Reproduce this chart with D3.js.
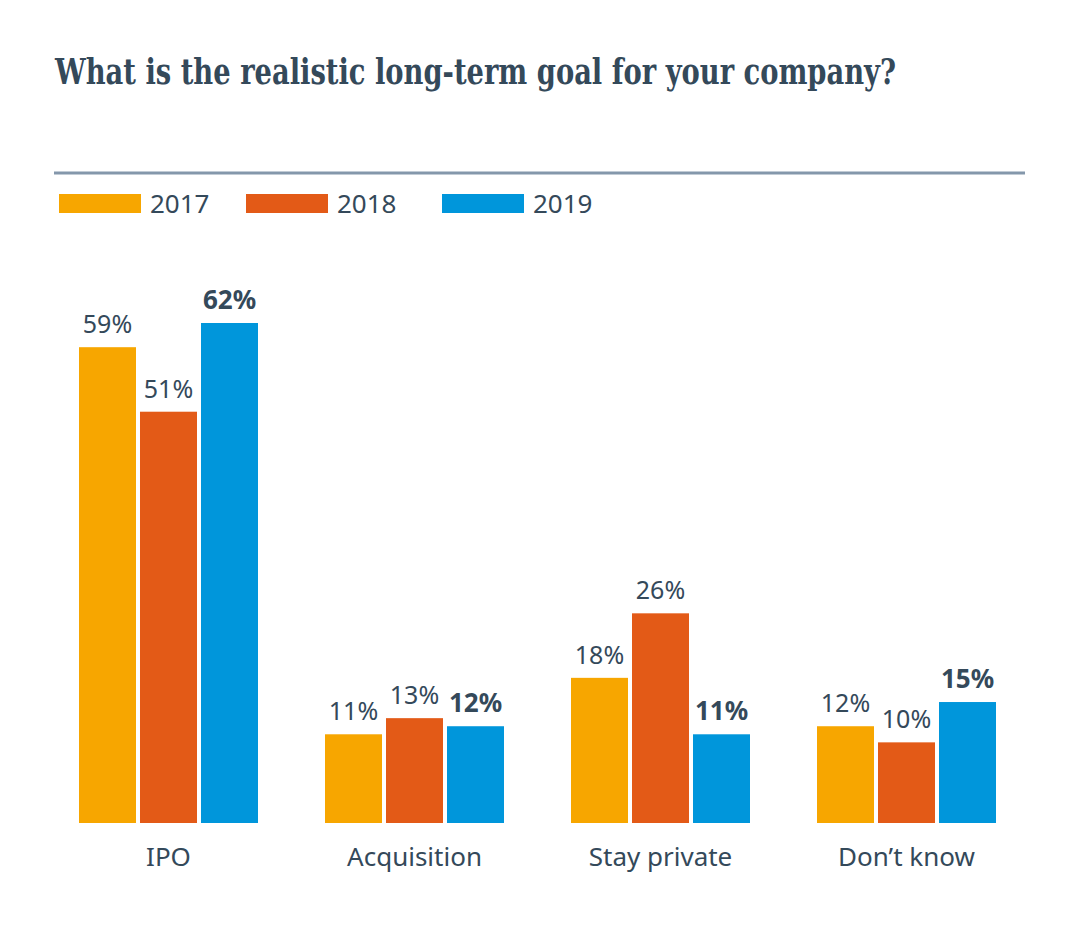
<!DOCTYPE html>
<html><head><meta charset="utf-8">
<script src="https://cdn.jsdelivr.net/npm/d3@7"></script>
<style>
html,body{margin:0;padding:0;background:#fff;}
svg{display:block;}
</style></head>
<body>
<svg id="chart" width="1080" height="926"></svg>
<script>
const categories = ["IPO", "Acquisition", "Stay private", "Don\u2019t know"];
const years = ["2017", "2018", "2019"];
const values2017 = [59, 11, 18, 12];
const values2018 = [51, 13, 26, 10];
const values2019 = [62, 12, 11, 15];
const colors = ["#f7a600", "#e35a17", "#0096db"];
const titleText = "What is the realistic long-term goal for your company?";

const seriesValues = [values2017, values2018, values2019];
const ink = "#34495a";
const sans = "'Noto Sans', 'Open Sans', sans-serif";

const svg = d3.select("#chart");

svg.append("text")
  .attr("x", 55).attr("y", 84)
  .attr("font-family", "'DejaVu Serif Condensed', 'DejaVu Serif', serif")
  .attr("font-weight", "bold")
  .attr("font-size", 35)
  .attr("textLength", 841)
  .attr("lengthAdjust", "spacingAndGlyphs")
  .attr("fill", ink)
  .text(titleText);

svg.append("line")
  .attr("x1", 54).attr("x2", 1025).attr("y1", 173).attr("y2", 173)
  .attr("stroke", "#8497ab").attr("stroke-width", 3);

// legend
const legendX = d3.scaleOrdinal().domain(years).range([59, 246, 442]);
const lg = svg.append("g").selectAll("g").data(years).join("g")
  .attr("transform", d => `translate(${legendX(d)},194)`);
lg.append("rect").attr("width", 82).attr("height", 19)
  .attr("fill", (d, i) => colors[i]);
lg.append("text").attr("x", 91).attr("y", 19)
  .attr("font-family", sans).attr("font-size", 26).attr("fill", ink)
  .text(d => d);

const x0 = d3.scaleBand().domain(categories).range([79, 996])
  .paddingInner(0.2724).paddingOuter(0);
const x1 = d3.scaleBand().domain(years).range([0, x0.bandwidth()])
  .paddingInner(0.0656).paddingOuter(0);
const y = d3.scaleLinear().domain([0, 62]).range([823, 323]);

const groups = svg.append("g").selectAll("g").data(categories).join("g")
  .attr("transform", d => `translate(${x0(d)},0)`);

groups.selectAll("rect")
  .data((c, ci) => years.map((yr, si) => ({yr, si, v: seriesValues[si][ci]})))
  .join("rect")
  .attr("x", d => x1(d.yr))
  .attr("width", x1.bandwidth())
  .attr("y", d => y(d.v))
  .attr("height", d => y(0) - y(d.v))
  .attr("fill", d => colors[d.si]);

groups.selectAll("text.val")
  .data((c, ci) => years.map((yr, si) => ({yr, si, v: seriesValues[si][ci]})))
  .join("text").attr("class", "val")
  .attr("x", d => x1(d.yr) + x1.bandwidth() / 2)
  .attr("y", d => y(d.v) - 14)
  .attr("text-anchor", "middle")
  .attr("font-family", sans)
  .attr("font-size", d => d.si === 2 ? 26 : 25)
  .attr("font-weight", d => d.si === 2 ? "bold" : "normal")
  .attr("fill", ink)
  .text(d => d.v + "%");

// category axis labels
const axis = d3.axisBottom(x0).tickSize(0).tickPadding(0);
const ag = svg.append("g").attr("transform", "translate(0,866)").call(axis);
ag.select(".domain").remove();
ag.selectAll("text")
  .attr("dy", 0)
  .attr("font-family", sans).attr("font-size", 26).attr("fill", ink);
</script>
</body></html>
